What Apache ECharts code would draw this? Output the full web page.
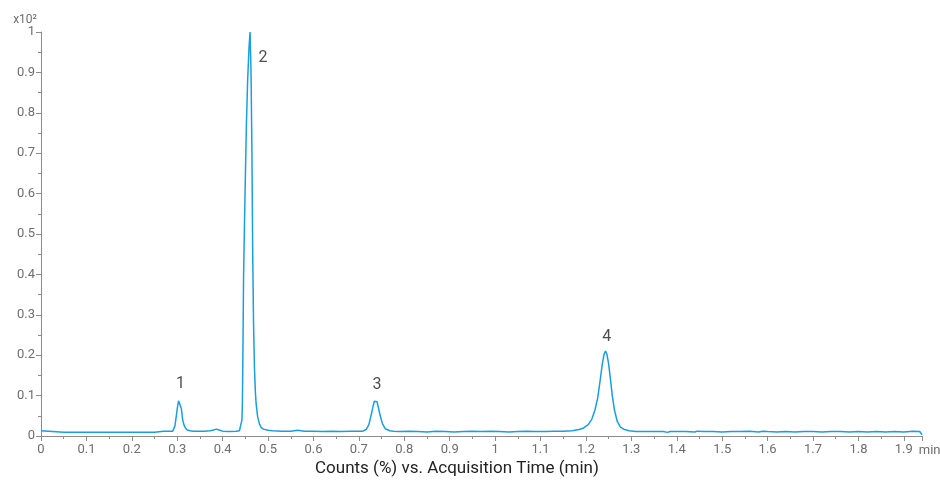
<!DOCTYPE html>
<html>
<head>
<meta charset="utf-8">
<script src="https://cdn.jsdelivr.net/npm/echarts@6/dist/echarts.min.js"></script>
<style>
  html, body { margin: 0; padding: 0; background: #fff; }
  #chart { width: 940px; height: 483px; }
</style>
</head>
<body>
<div id="chart"></div>
<script>
// acquisition time (min) and counts (x10^2)
const times = [
  0, 0.004, 0.05, 0.1, 0.15, 0.2, 0.25, 0.252, 0.27, 0.285,
  0.29, 0.2925, 0.295, 0.298, 0.301, 0.303, 0.305, 0.307, 0.309, 0.312, 0.315, 0.318, 0.322, 0.328, 0.336,
  0.345, 0.36, 0.372, 0.38, 0.386, 0.392, 0.40, 0.415, 0.43, 0.437, 0.440,
  0.4425, 0.4435, 0.445, 0.446, 0.448, 0.450, 0.4523, 0.455, 0.458, 0.4604, 0.4625, 0.4645,
  0.4662, 0.468, 0.470, 0.472, 0.4737, 0.477, 0.481, 0.4847, 0.490, 0.50, 0.51,
  0.53, 0.55, 0.565, 0.58, 0.60, 0.62, 0.64, 0.66, 0.68, 0.70, 0.709,
  0.716, 0.722, 0.727, 0.731, 0.734, 0.737, 0.740, 0.743, 0.747, 0.752, 0.758, 0.768, 0.776,
  0.79, 0.81, 0.83, 0.85, 0.87, 0.89, 0.91, 0.93, 0.95, 0.97, 0.99, 1.01, 1.03, 1.05, 1.07,
  1.09, 1.11, 1.13, 1.15, 1.17,
  1.185, 1.195, 1.205, 1.213, 1.220, 1.226, 1.231, 1.236, 1.240, 1.243, 1.246, 1.250, 1.254,
  1.258, 1.263, 1.269, 1.276, 1.285, 1.295,
  1.31, 1.33, 1.35, 1.37, 1.38, 1.385, 1.40, 1.42, 1.44, 1.445, 1.46, 1.48, 1.50, 1.52, 1.54,
  1.56, 1.58, 1.59, 1.60, 1.62, 1.64, 1.66, 1.68, 1.70, 1.72, 1.74, 1.76, 1.78, 1.80, 1.82,
  1.84, 1.86, 1.88, 1.90, 1.92, 1.935, 1.938, 1.94
];
const counts = [
  0.013, 0.009, 0.009, 0.009, 0.009, 0.009, 0.009, 0.012, 0.012, 0.012,
  0.012, 0.013, 0.025, 0.050, 0.075, 0.087, 0.091, 0.086, 0.068, 0.040, 0.027, 0.020, 0.015, 0.013, 0.012,
  0.012, 0.012, 0.013, 0.015, 0.017, 0.015, 0.012, 0.011, 0.012, 0.013, 0.015,
  0.04, 0.08, 0.25, 0.39, 0.52, 0.64, 0.77, 0.88, 0.96, 1.0, 0.90, 0.70,
  0.45, 0.28, 0.17, 0.11, 0.08, 0.048, 0.030, 0.021, 0.017, 0.014, 0.013,
  0.012, 0.012, 0.014, 0.012, 0.012, 0.011, 0.012, 0.011, 0.012, 0.012, 0.012,
  0.016, 0.028, 0.052, 0.072, 0.086, 0.090, 0.085, 0.070, 0.050, 0.030, 0.018, 0.013, 0.012,
  0.011, 0.012, 0.011, 0.010, 0.012, 0.011, 0.010, 0.011, 0.012, 0.011, 0.012, 0.011, 0.010, 0.011, 0.012,
  0.011, 0.011, 0.012, 0.012, 0.013,
  0.016, 0.020, 0.028, 0.042, 0.065, 0.095, 0.135, 0.178, 0.203, 0.210, 0.203, 0.178, 0.14,
  0.10, 0.063, 0.036, 0.022, 0.016, 0.013,
  0.011, 0.011, 0.011, 0.011, 0.009, 0.011, 0.011, 0.011, 0.010, 0.012, 0.011, 0.011, 0.010, 0.011, 0.011,
  0.012, 0.010, 0.012, 0.011, 0.010, 0.011, 0.010, 0.011, 0.011, 0.010, 0.011, 0.011, 0.010, 0.011, 0.010,
  0.011, 0.010, 0.011, 0.010, 0.012, 0.011, 0.010, 0.003
];

// peak numbers and where their labels sit
const peakNames = ['1', '2', '3', '4'];
const peakLabelTimes = [0.307, 0.489, 0.740, 1.246];
const peakLabelCounts = [0.129, 0.935, 0.127, 0.246];

const traceData = times.map((t, i) => [t, counts[i]]);
const labelData = peakNames.map((n, i) => ({ name: n, value: [peakLabelTimes[i], peakLabelCounts[i]] }));

const axisGrey = '#8c8c8c';
const labelGrey = '#6e6e6e';

var myChart = echarts.init(document.getElementById('chart'));

var option = {
  animation: false,
  grid: { left: 41, right: 18, top: 32, bottom: 47, outerBoundsMode: 'none' },
  xAxis: {
    type: 'value',
    min: 0,
    max: 1.94,
    interval: 0.1,
    name: 'min',
    nameLocation: 'end',
    nameGap: -6,
    nameTextStyle: { color: labelGrey, fontFamily: 'Roboto', fontSize: 13, align: 'left', verticalAlign: 'top', padding: [8, 0, 0, 0] },
    axisLine: { lineStyle: { color: axisGrey, width: 1 } },
    axisTick: { length: 5, lineStyle: { color: axisGrey } },
    minorTick: { show: true, splitNumber: 2, length: 3, lineStyle: { color: axisGrey } },
    splitLine: { show: false },
    axisLabel: { color: labelGrey, fontFamily: 'Roboto', fontSize: 13, margin: 7, showMaxLabel: false }
  },
  yAxis: {
    type: 'value',
    min: 0,
    max: 1,
    interval: 0.1,
    name: 'x10²',
    nameLocation: 'end',
    nameGap: 6,
    nameTextStyle: { color: labelGrey, fontFamily: 'Roboto', fontSize: 12, align: 'right', padding: [0, 4, 0, 0] },
    axisLine: { show: true, lineStyle: { color: axisGrey, width: 1 } },
    axisTick: { show: true, length: 5, lineStyle: { color: axisGrey } },
    minorTick: { show: true, splitNumber: 2, length: 3, lineStyle: { color: axisGrey } },
    splitLine: { show: false },
    axisLabel: { color: labelGrey, fontFamily: 'Roboto', fontSize: 13, margin: 6 }
  },
  graphic: [{
    type: 'text',
    left: 315,
    top: 460,
    style: { text: 'Counts (%) vs. Acquisition Time (min)', fill: '#222', font: '17px Roboto' }
  }],
  series: [{
    type: 'line',
    data: traceData,
    showSymbol: false,
    lineStyle: { color: '#1a9ee0', width: 1.5 },
    z: 2
  }, {
    type: 'scatter',
    data: labelData,
    symbolSize: 0,
    label: {
      show: true,
      position: 'inside',
      formatter: '{b}',
      color: '#222',
      fontFamily: 'Roboto',
      fontSize: 16
    },
    z: 3
  }]
};
myChart.setOption(option);
</script>
</body>
</html>
